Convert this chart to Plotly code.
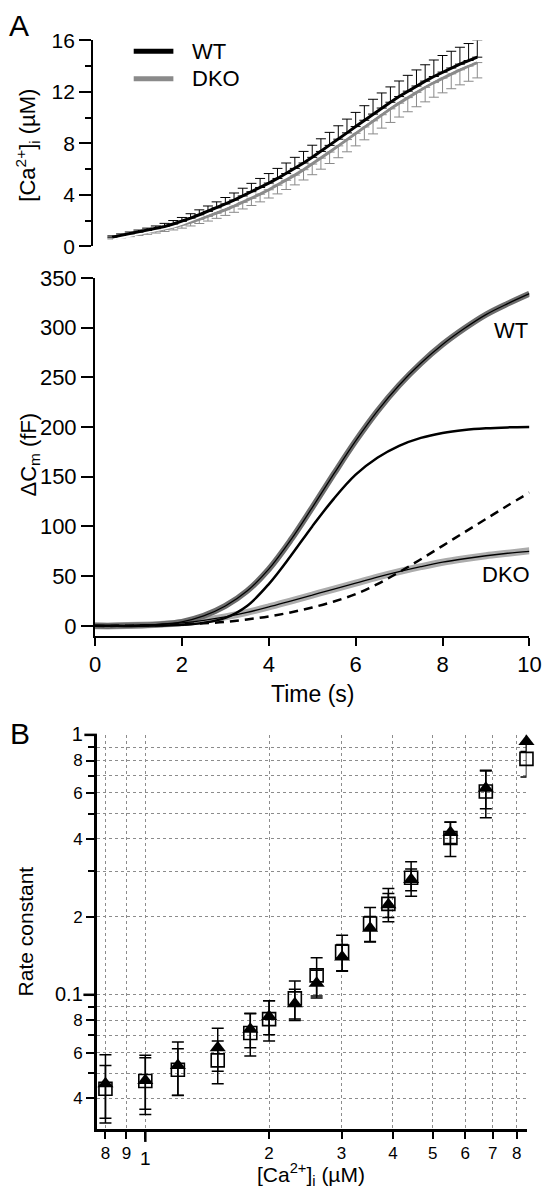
import plotly.graph_objects as go

W, H = 554, 1200
def px(x):
    return x / W
def py(y):
    return 1 - y / H

# ---------------- Panel A (top): [Ca2+]i time course ----------------
t_ca = [0.4, 0.6, 0.8, 1.0, 1.2, 1.4, 1.6, 1.8, 2.0, 2.2,
        2.4, 2.6, 2.8, 3.0, 3.2, 3.4, 3.6, 3.8, 4.0, 4.2,
        4.4, 4.6, 4.8, 5.0, 5.2, 5.4, 5.6, 5.8, 6.0, 6.2,
        6.4, 6.6, 6.8, 7.0, 7.2, 7.4, 7.6, 7.8, 8.0, 8.2,
        8.4, 8.6, 8.8]
ca_wt = [0.72, 0.85, 0.98, 1.11, 1.24, 1.38, 1.55, 1.74, 1.95, 2.20,
         2.46, 2.72, 3.00, 3.30, 3.60, 3.92, 4.25, 4.58, 4.92, 5.28,
         5.66, 6.06, 6.48, 6.92, 7.38, 7.85, 8.33, 8.82, 9.31, 9.80,
         10.28, 10.75, 11.20, 11.64, 12.06, 12.46, 12.84, 13.20, 13.54, 13.86,
         14.16, 14.44, 14.70]
ca_wt_sem = [0.10, 0.12, 0.14, 0.16, 0.18, 0.21, 0.24, 0.27, 0.30, 0.34,
             0.38, 0.42, 0.46, 0.50, 0.55, 0.60, 0.65, 0.70, 0.74, 0.78,
             0.82, 0.86, 0.90, 0.94, 0.98, 1.01, 1.04, 1.07, 1.10, 1.13,
             1.15, 1.17, 1.19, 1.21, 1.23, 1.25, 1.27, 1.28, 1.29, 1.30,
             1.31, 1.32, 1.33]
ca_dko = [0.66, 0.77, 0.88, 0.99, 1.10, 1.22, 1.36, 1.51, 1.68, 1.88,
          2.10, 2.33, 2.58, 2.85, 3.13, 3.43, 3.74, 4.06, 4.40, 4.76,
          5.14, 5.54, 5.96, 6.40, 6.86, 7.33, 7.81, 8.30, 8.79, 9.28,
          9.76, 10.23, 10.69, 11.13, 11.56, 11.97, 12.36, 12.73, 13.08, 13.41,
          13.72, 14.01, 14.28]
ca_dko_sem = [0.08, 0.10, 0.12, 0.14, 0.16, 0.18, 0.20, 0.23, 0.26, 0.29,
              0.32, 0.36, 0.40, 0.44, 0.48, 0.52, 0.56, 0.60, 0.64, 0.68,
              0.72, 0.76, 0.80, 0.83, 0.86, 0.89, 0.92, 0.95, 0.98, 1.00,
              1.02, 1.04, 1.06, 1.08, 1.10, 1.12, 1.13, 1.14, 1.15, 1.16,
              1.17, 1.18, 1.19]
zeros_ca = [0] * len(t_ca)

# ---------------- Panel A (bottom): capacitance ----------------
t_cm = [0, 0.5, 1, 1.5, 2, 2.5, 3, 3.5, 4, 4.5, 5,
        5.5, 6, 6.5, 7, 7.5, 8, 8.5, 9, 9.5, 10]
cm_wt_raw = [0, 0, 0.5, 1.5, 4, 10, 20, 35, 57, 86, 119,
             153, 186, 216, 242, 264, 283, 299, 313, 324, 334]
cm_wt_fit = [0, 0, 0.5, 1.5, 4, 10, 20, 35, 57, 86, 119,
             153, 186, 216, 242, 264, 283, 299, 313, 324, 334]
cm_fast = [0, 0, 0, 0.3, 1, 3, 8, 20, 42, 70, 100,
           128, 152, 169, 181, 189, 194, 197, 198.7, 199.6, 200]
cm_slow = [0, 0, 0.3, 0.8, 1.5, 2.5, 4, 6.5, 9.5, 13.5, 18.5,
           24.5, 32, 42, 54, 67, 80.5, 94, 107.5, 121, 134]
cm_dko_raw = [0, 0, 0.5, 1.5, 3, 5.5, 9, 13.5, 19, 25, 31,
              37, 43, 49, 54.5, 59.5, 64, 67.5, 70.5, 73, 75.5]
cm_dko_fit = [0, 0, 0.5, 1.5, 3, 5.5, 9, 13.5, 19, 25, 31,
              37, 43, 49, 54.5, 59.5, 64, 67.5, 70.5, 73, 75]

# ---------------- Panel B: rate constant vs [Ca2+]i ----------------
ca_b = [0.80, 1.00, 1.20, 1.50, 1.80, 2.00, 2.31, 2.61, 3.01, 3.52,
        3.90, 4.43, 5.52, 6.73, 8.45]
rate_sq = [0.0435, 0.0466, 0.0515, 0.0560, 0.0714, 0.0807, 0.0970, 0.1190,
           0.1469, 0.1886, 0.2244, 0.2829, 0.4026, 0.6078, 0.8118]
rate_sq_err = [0.0100, 0.0120, 0.0105, 0.0105, 0.0132, 0.0142, 0.0162, 0.0200,
               0.0230, 0.0287, 0.0330, 0.0430, 0.0610, 0.1260, 0.1210]
rate_tri = [0.0455, 0.0468, 0.0535, 0.0626, 0.0738, 0.0826, 0.0925, 0.1110,
            0.1400, 0.1806, 0.2226, 0.2788, 0.4230, 0.6254, 0.9464]
rate_tri_err = [0.0134, 0.0105, 0.0124, 0.0118, 0.0112, 0.0123, 0.0128, 0.0136,
                0.0165, 0.0200, 0.0236, 0.0270, 0.0400, 0.1040, 0.0800]

x_b_ticks = [0.8, 0.9, 1, 2, 3, 4, 5, 6, 7, 8]
x_b_text = ['8', '9', ' ', '2', '3', '4', '5', '6', '7', '8']
y_b_ticks = [0.04, 0.06, 0.08, 0.1, 0.2, 0.4, 0.6, 0.8, 1]
y_b_text = ['4', '6', '8', '<span style="font-size:20px">0.1</span>', '2', '4', '6', '8',
            '<span style="font-size:20px">1</span>']
y_b_minor = [0.05, 0.07, 0.09, 0.3, 0.5, 0.7, 0.9]

FONT = 'Liberation Sans, Arial, sans-serif'
fig = go.Figure()

# Top panel traces
fig.add_trace(go.Scatter(x=t_ca, y=ca_dko, xaxis='x', yaxis='y', mode='lines',
                         line=dict(color='#8a8a8a', width=3),
                         error_y=dict(type='data', symmetric=False, array=zeros_ca,
                                      arrayminus=ca_dko_sem, color='#8a8a8a',
                                      thickness=1, width=5),
                         showlegend=False))
fig.add_trace(go.Scatter(x=t_ca, y=ca_wt, xaxis='x', yaxis='y', mode='lines',
                         line=dict(color='white', width=7), showlegend=False,
                         hoverinfo='skip'))
fig.add_trace(go.Scatter(x=t_ca, y=ca_wt, xaxis='x', yaxis='y', mode='lines',
                         line=dict(color='black', width=3),
                         error_y=dict(type='data', symmetric=False, array=ca_wt_sem,
                                      arrayminus=zeros_ca, color='black',
                                      thickness=1, width=5),
                         showlegend=False))

# Bottom panel A traces
fig.add_trace(go.Scatter(x=t_cm, y=cm_dko_raw, xaxis='x2', yaxis='y2', mode='lines',
                         line=dict(color='#acacac', width=7, shape='spline'),
                         showlegend=False))
fig.add_trace(go.Scatter(x=t_cm, y=cm_wt_raw, xaxis='x2', yaxis='y2', mode='lines',
                         line=dict(color='#6c6c6c', width=6, shape='spline'),
                         showlegend=False))
fig.add_trace(go.Scatter(x=t_cm, y=cm_fast, xaxis='x2', yaxis='y2', mode='lines',
                         line=dict(color='black', width=2.5, shape='spline'),
                         showlegend=False))
fig.add_trace(go.Scatter(x=t_cm, y=cm_slow, xaxis='x2', yaxis='y2', mode='lines',
                         line=dict(color='black', width=2.5, shape='spline', dash='9px,6px'),
                         showlegend=False))
fig.add_trace(go.Scatter(x=t_cm, y=cm_wt_fit, xaxis='x2', yaxis='y2', mode='lines',
                         line=dict(color='black', width=1.3, shape='spline'),
                         showlegend=False))
fig.add_trace(go.Scatter(x=t_cm, y=cm_dko_fit, xaxis='x2', yaxis='y2', mode='lines',
                         line=dict(color='black', width=1.3, shape='spline'),
                         showlegend=False))

# Panel B traces
fig.add_trace(go.Scatter(x=ca_b, y=rate_sq, xaxis='x3', yaxis='y3', mode='markers',
                         marker=dict(symbol='square-open', size=13, color='black',
                                     line=dict(width=1.6, color='black')),
                         error_y=dict(type='data', array=rate_sq_err, color='black',
                                      thickness=1.5, width=6),
                         cliponaxis=False, showlegend=False))
fig.add_trace(go.Scatter(x=ca_b, y=rate_tri, xaxis='x3', yaxis='y3', mode='markers',
                         marker=dict(symbol='triangle-up', size=14, color='black'),
                         error_y=dict(type='data', array=rate_tri_err, color='black',
                                      thickness=1.5, width=6),
                         cliponaxis=False, showlegend=False))

def axis_style(size):
    return dict(showline=True, linecolor='black', linewidth=2, ticks='outside',
                tickcolor='black', tickwidth=2, showgrid=False, zeroline=False,
                tickfont=dict(size=size, color='black', family=FONT))

grid_b = dict(showgrid=True, gridcolor='#8c8c8c', griddash='dot', gridwidth=1)

fig.update_layout(
    width=W, height=H,
    margin=dict(l=0, r=0, t=0, b=0),
    paper_bgcolor='white', plot_bgcolor='white',
    font=dict(family=FONT, color='black', size=20),
    showlegend=False,
    xaxis=dict(domain=[px(90), px(541)], range=[-0.045, 10], visible=False,
               anchor='y'),
    yaxis=dict(domain=[py(239), py(29)], range=[0, 16], anchor='x',
               tickvals=[0, 4, 8, 12, 16], ticklen=12,
               minor=dict(tickvals=[2, 6, 10, 14], ticklen=6, tickwidth=2,
                          ticks='outside', tickcolor='black'),
               **axis_style(21)),
    xaxis2=dict(domain=[px(92), px(541)], range=[0, 10], anchor='y2',
                tickvals=[0, 2, 4, 6, 8, 10], ticklen=8, **axis_style(22)),
    yaxis2=dict(domain=[py(636), py(271)], range=[-10, 350], anchor='x2',
                tickvals=[0, 50, 100, 150, 200, 250, 300, 350], ticklen=12,
                **axis_style(22)),
    xaxis3=dict(type='log', domain=[px(94), px(538)], range=[-0.1176, 0.927],
                anchor='y3', tickmode='array', tickvals=x_b_ticks, ticktext=x_b_text,
                ticklen=7, showline=True, linecolor='black', linewidth=2.5,
                ticks='outside', tickcolor='black', tickwidth=2, zeroline=False,
                tickfont=dict(size=17, color='black', family=FONT), **grid_b),
    yaxis3=dict(type='log', domain=[py(1139), py(737)], range=[-1.517, 0.002],
                anchor='x3', tickmode='array', tickvals=y_b_ticks, ticktext=y_b_text,
                ticklen=8, showline=True, linecolor='black', linewidth=2.5,
                ticks='outside', tickcolor='black', tickwidth=2, zeroline=False,
                tickfont=dict(size=17, color='black', family=FONT),
                minor=dict(tickvals=y_b_minor, ticklen=6, tickwidth=2, ticks='outside',
                           tickcolor='black', showgrid=True, gridcolor='#8c8c8c',
                           griddash='dot', gridwidth=1),
                **grid_b),
)

def ann(text, x, y, size=20, angle=0, xanchor='center'):
    fig.add_annotation(text=text, x=px(x), y=py(y), xref='paper', yref='paper',
                       showarrow=False, textangle=angle, xanchor=xanchor,
                       yanchor='middle', font=dict(size=size, color='black', family=FONT))

ann('A', 13, 14, size=30)
ann('B', 14, 736, size=30)
ann('[Ca<sup>2+</sup>]<sub>i</sub> (µM)', 22, 136, size=22, angle=-90)
ann('ΔC<sub>m</sub> (fF)', 25, 451, size=22, angle=-90)
ann('Time (s)', 317, 695, size=23)
ann('WT', 522, 325, size=22)
ann('DKO', 517, 573, size=22)
ann('WT', 190, 40, size=22, xanchor='left')
ann('DKO', 190, 68, size=22, xanchor='left')
ann('Rate constant', 20, 937, size=21, angle=-90)
ann('[Ca<sup>2+</sup>]<sub>i</sub> (µM)', 315, 1185, size=21)
ann('1', 144, 1169, size=19)

def seg(x0, y0, x1, y1, color='black', width=2):
    fig.add_shape(type='line', xref='paper', yref='paper',
                  x0=px(x0), y0=py(y0), x1=px(x1), y1=py(y1),
                  line=dict(color=color, width=width))

# legend lines
seg(132, 40, 173, 40, 'black', 5)
seg(132, 68, 173, 68, '#8a8a8a', 5)
# longer decade ticks in panel B
seg(144, 1139, 144, 1152, 'black', 2.5)
seg(81, 737, 94, 737, 'black', 2.5)
seg(80, 1002, 94, 1002, 'black', 2.5)

fig.write_html("out.html",
               config={'displayModeBar': False},
               post_script="document.body.style.margin='0px';"
                           "document.body.style.overflow='hidden';")
